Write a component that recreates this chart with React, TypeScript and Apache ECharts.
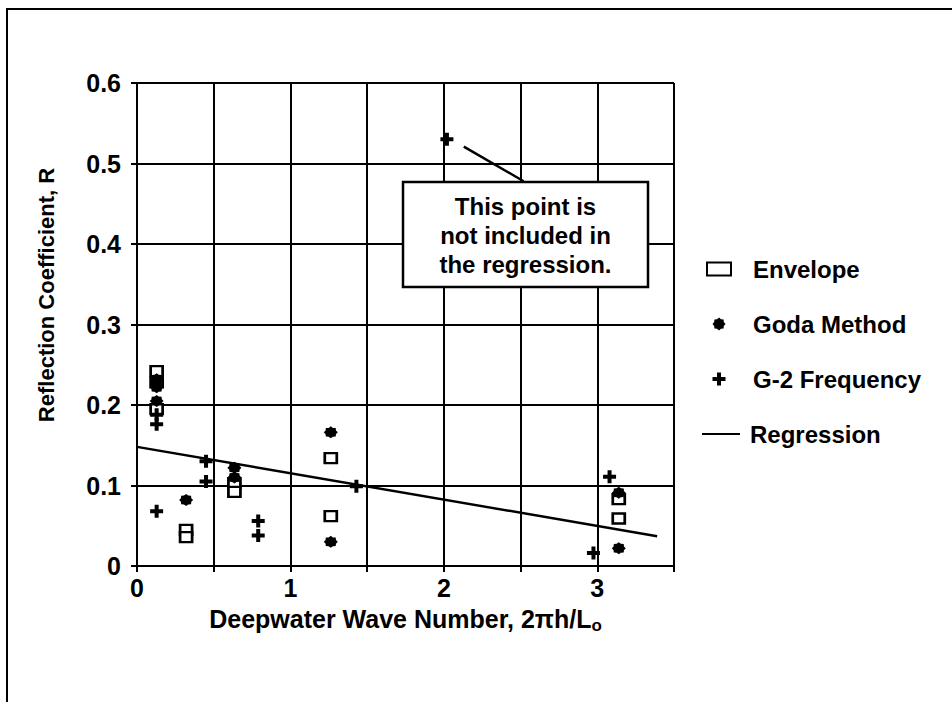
import React, { useEffect, useRef } from "react";
import * as echarts from "echarts";

// Reflection coefficient data [wave number 2πh/Lo, R]
const envelope: number[][] = [
  [0.128, 0.242], [0.128, 0.228], [0.128, 0.195],
  [0.32, 0.045], [0.32, 0.036],
  [0.635, 0.103], [0.635, 0.092],
  [1.263, 0.134], [1.263, 0.062],
  [3.14, 0.083], [3.14, 0.059],
];
const goda: number[][] = [
  [0.128, 0.232], [0.128, 0.222], [0.128, 0.205],
  [0.32, 0.082],
  [0.635, 0.122], [0.635, 0.11],
  [1.263, 0.166], [1.263, 0.03],
  [3.14, 0.091], [3.14, 0.022],
];
const g2Frequency: number[][] = [
  [0.128, 0.188], [0.128, 0.176], [0.128, 0.068],
  [0.45, 0.13], [0.45, 0.105],
  [0.79, 0.056], [0.79, 0.038],
  [1.43, 0.099],
  [2.02, 0.53],
  [2.975, 0.016],
  [3.08, 0.111],
];
const regression: number[][] = [[0, 0.148], [3.39, 0.037]];
const calloutLine: number[][] = [[2.13, 0.521], [2.52, 0.478]];

const xMin = 0, xMax = 3.5, xStep = 0.5;
const yMin = 0, yMax = 0.6, yStep = 0.1;

const FONT = '"Liberation Sans", Arial, sans-serif';

function starPath(): string {
  let d = "";
  for (let i = 0; i < 16; i++) {
    const r = i % 2 === 0 ? 50 : 40;
    const a = ((i * 22.5 - 90) * Math.PI) / 180;
    const x = 50 + r * Math.cos(a);
    const y = 50 + r * Math.sin(a);
    d += (i === 0 ? "M" : "L") + x.toFixed(1) + "," + y.toFixed(1);
  }
  return "path://" + d + "Z";
}
const PLUS = "path://M4.5,0h4v4.5h4.5v4h-4.5v4.5h-4v-4.5h-4.5v-4h4.5z";

export default function App() {
  const ref = useRef<HTMLDivElement>(null);
  useEffect(() => {
    document.body.style.margin = "0";
    const chart = echarts.init(ref.current!, null, { renderer: "svg" });
    const txt = { fontFamily: FONT, fontWeight: "bold" as const, color: "#000" };
    chart.setOption({
      animation: false,
      backgroundColor: "#fff",
      grid: { left: 137, right: 278, top: 83, bottom: 136, containLabel: false },
      xAxis: {
        type: "value",
        min: xMin,
        max: xMax,
        interval: xStep,
        axisLine: { show: true, onZero: false, lineStyle: { color: "#000", width: 2 } },
        axisTick: { show: true, length: 6, lineStyle: { color: "#000", width: 2 } },
        splitLine: { show: true, lineStyle: { color: "#000", width: 2 } },
        axisLabel: {
          ...txt,
          fontSize: 25,
          margin: 9,
          formatter: (v: number) => (Number.isInteger(v) && v < xMax ? String(v) : ""),
        },
        name: "{a|Deepwater Wave Number, 2πh/L}{s|o}",
        nameLocation: "middle",
        nameGap: 38,
        nameTextStyle: {
          rich: {
            a: { ...txt, fontSize: 25, lineHeight: 30 },
            s: { ...txt, fontSize: 17, lineHeight: 17, verticalAlign: "bottom" },
          },
        },
      },
      yAxis: {
        type: "value",
        min: yMin,
        max: yMax,
        interval: yStep,
        axisLine: { show: true, lineStyle: { color: "#000", width: 2 } },
        axisTick: { show: true, length: 6, lineStyle: { color: "#000", width: 2 } },
        splitLine: { show: true, lineStyle: { color: "#000", width: 2 } },
        axisLabel: {
          ...txt,
          fontSize: 25,
          margin: 16,
          formatter: (v: number) => (v === 0 ? "0" : v.toFixed(1)),
        },
      },
      legend: [
        {
          data: ["Envelope", "Goda Method", "G-2 Frequency"],
          orient: "vertical",
          left: 701,
          top: 252,
          itemWidth: 24,
          itemHeight: 13,
          itemGap: 31,
          textStyle: { ...txt, fontSize: 24, lineHeight: 24, padding: [0, 0, 0, 17] },
        },
        {
          data: [{ name: "Regression", icon: "rect" }],
          orient: "vertical",
          left: 697,
          top: 417,
          itemWidth: 38,
          itemHeight: 2,
          textStyle: { ...txt, fontSize: 24, lineHeight: 24, padding: [0, 0, 0, 5] },
        },
      ],
      series: [
        {
          name: "Regression",
          type: "line",
          data: regression,
          symbol: "none",
          color: "#000",
          lineStyle: { color: "#000", width: 2.5 },
          z: 3,
        },
        {
          name: "callout",
          type: "line",
          data: calloutLine,
          symbol: "none",
          lineStyle: { color: "#000", width: 2.5 },
          silent: true,
        },
        {
          name: "Envelope",
          type: "scatter",
          data: envelope,
          symbol: "rect",
          symbolSize: [12, 10],
          itemStyle: { color: "#fff", borderColor: "#000", borderWidth: 2.5, opacity: 1 },
          z: 4,
        },
        {
          name: "Goda Method",
          type: "scatter",
          data: goda,
          symbol: starPath(),
          symbolSize: [14, 12],
          itemStyle: { color: "#000", opacity: 1 },
          z: 5,
        },
        {
          name: "G-2 Frequency",
          type: "scatter",
          data: g2Frequency,
          symbol: PLUS,
          symbolSize: [13, 13],
          itemStyle: { color: "#000", opacity: 1 },
          z: 5,
        },
      ],
      graphic: [
        {
          type: "rect",
          shape: { x: 7, y: 9, width: 1000, height: 1000 },
          style: { fill: "none", stroke: "#000", lineWidth: 2 },
          z: -10,
          silent: true,
        },
        {
          type: "text",
          x: 46,
          y: 295,
          rotation: Math.PI / 2,
          style: {
            text: "Reflection Coefficient, R",
            fontFamily: FONT,
            fontWeight: "bold",
            fontSize: 22,
            fill: "#000",
            align: "center",
            verticalAlign: "middle",
          },
        },
        {
          type: "rect",
          shape: { x: 403, y: 182, width: 245, height: 105 },
          style: { fill: "#fff", stroke: "#000", lineWidth: 2.5 },
          z: 50,
        },
        {
          type: "text",
          x: 525.5,
          y: 235,
          z: 51,
          style: {
            text: "This point is\nnot included in\nthe regression.",
            fontFamily: FONT,
            fontWeight: "bold",
            fontSize: 24,
            lineHeight: 29,
            fill: "#000",
            align: "center",
            verticalAlign: "middle",
          },
        },
      ],
    });
    return () => chart.dispose();
  }, []);
  return <div ref={ref} style={{ width: 952, height: 702 }} />;
}
